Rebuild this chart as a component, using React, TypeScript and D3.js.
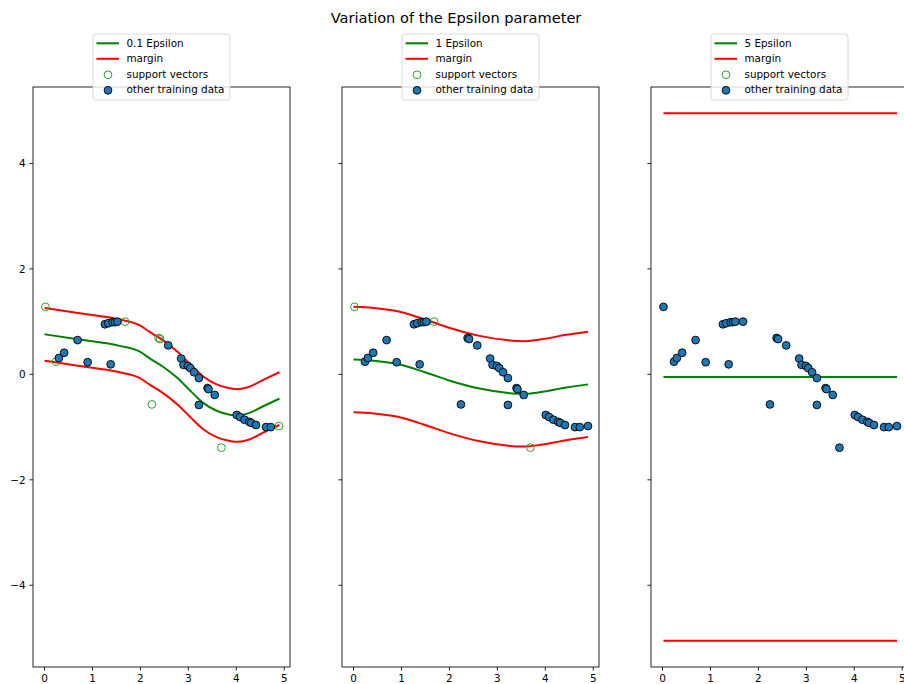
import React, { useEffect, useRef } from "react";
import * as d3 from "d3";

// training points
const pointX = [0.02, 0.24, 0.3, 0.41, 0.69, 0.9, 1.26, 1.33, 1.38, 1.42, 1.47, 1.52, 1.68, 2.24, 2.38, 2.41, 2.58, 2.85, 2.9, 2.99, 3.04, 3.12, 3.22, 3.22, 3.4, 3.42, 3.55, 3.69, 4.01, 4.08, 4.17, 4.27, 4.31, 4.41, 4.62, 4.72, 4.89];
const pointY = [1.28, 0.24, 0.31, 0.41, 0.65, 0.23, 0.95, 0.97, 0.19, 0.99, 0.99, 1.0, 1.0, -0.57, 0.69, 0.67, 0.55, 0.3, 0.18, 0.16, 0.12, 0.04, -0.07, -0.58, -0.26, -0.28, -0.39, -1.39, -0.77, -0.81, -0.86, -0.9, -0.92, -0.96, -1.0, -1.0, -0.98];

// model predictions per epsilon
const predX01 = [0, 0.73, 1.57, 1.99, 2.2, 2.48, 2.76, 3.03, 3.31, 3.59, 3.8, 4.01, 4.22, 4.57, 4.9];
const predY01 = [0.76, 0.66, 0.54, 0.43, 0.3, 0.14, -0.06, -0.3, -0.54, -0.69, -0.75, -0.78, -0.75, -0.6, -0.46];
const predX1 = [0, 0.42, 0.9, 1.46, 2.01, 2.63, 3.19, 3.53, 3.88, 4.44, 4.89];
const predY1 = [0.28, 0.26, 0.2, 0.05, -0.12, -0.27, -0.35, -0.37, -0.34, -0.25, -0.19];
const predX5 = [0.02, 4.89];
const predY5 = [-0.05, -0.05];

const epsilonLabels = ["0.1 Epsilon", "1 Epsilon", "5 Epsilon"];
const marginWidths = [0.5, 1, 5];
const supportIdx01 = [0, 1, 12, 13, 14, 15, 27, 36];
const supportIdx1 = [0, 12, 27];
const supportIdx5: number[] = [];

const xTicks = [0, 1, 2, 3, 4, 5];
const yTicks = [-4, -2, 0, 2, 4];
const legendLabels = ["margin", "support vectors", "other training data"];

const W = 904;
const H = 684;
const FONT = "DejaVu Sans, sans-serif";
const R = 3.9;

const App = () => {
  const ref = useRef<SVGSVGElement>(null);

  useEffect(() => {
    const svg = d3.select(ref.current);
    svg.selectAll("*").remove();

    const panels = [
      { px: predX01, py: predY01, sv: supportIdx01 },
      { px: predX1, py: predY1, sv: supportIdx1 },
      { px: predX5, py: predY5, sv: supportIdx5 },
    ];

    const axLefts = [33, 342, 651];
    const axW = 257;
    const top = 87;
    const bottom = 667;

    const y = d3.scaleLinear().domain([-5.55, 5.45]).range([bottom, top]);

    svg.append("text")
      .attr("x", 456)
      .attr("y", 23)
      .attr("text-anchor", "middle")
      .style("font-family", FONT)
      .style("font-size", "14.6px")
      .text("Variation of the Epsilon parameter");

    panels.forEach((p, i) => {
      const left = axLefts[i];
      const x = d3.scaleLinear().domain([-0.24, 5.12]).range([left, left + axW]);
      const g = svg.append("g");

      const clipId = `clip${i}`;
      svg.append("clipPath").attr("id", clipId)
        .append("rect").attr("x", left).attr("y", top).attr("width", axW).attr("height", bottom - top);

      const line = d3.line<number>()
        .x((_, k) => x(p.px[k]))
        .curve(d3.curveMonotoneX);

      const plot = g.append("g").attr("clip-path", `url(#${clipId})`);
      const idx = p.px.map((_, k) => k);

      plot.append("path")
        .attr("d", line.y(k => y(p.py[k]))(idx))
        .attr("fill", "none").attr("stroke", "#008000").attr("stroke-width", 2);
      [1, -1].forEach(s => {
        plot.append("path")
          .attr("d", line.y(k => y(p.py[k] + s * marginWidths[i]))(idx))
          .attr("fill", "none").attr("stroke", "#ff0000").attr("stroke-width", 2);
      });

      const svSet = new Set(p.sv);
      plot.selectAll(".sv")
        .data(p.sv)
        .enter().append("circle")
        .attr("cx", k => x(pointX[k])).attr("cy", k => y(pointY[k]))
        .attr("r", R)
        .attr("fill", "none").attr("stroke", "#2ca02c").attr("stroke-width", 1);

      const others = pointX.map((_, k) => k).filter(k => !svSet.has(k));
      plot.selectAll(".pt")
        .data(others)
        .enter().append("circle")
        .attr("cx", k => x(pointX[k])).attr("cy", k => y(pointY[k]))
        .attr("r", R)
        .attr("fill", "#1f77b4").attr("stroke", "#000").attr("stroke-width", 0.9);

      // spines
      g.append("rect")
        .attr("x", left).attr("y", top).attr("width", axW).attr("height", bottom - top)
        .attr("fill", "none").attr("stroke", "#000").attr("stroke-width", 0.85);

      // x ticks
      xTicks.forEach(t => {
        g.append("line")
          .attr("x1", x(t)).attr("x2", x(t)).attr("y1", bottom).attr("y2", bottom + 3.6)
          .attr("stroke", "#000").attr("stroke-width", 0.85);
        g.append("text")
          .attr("x", x(t)).attr("y", bottom + 15)
          .attr("text-anchor", "middle")
          .style("font-family", FONT).style("font-size", "10.4px")
          .text(String(t));
      });

      // y ticks, labels only on the first panel
      yTicks.forEach(t => {
        g.append("line")
          .attr("x1", left - 3.6).attr("x2", left).attr("y1", y(t)).attr("y2", y(t))
          .attr("stroke", "#000").attr("stroke-width", 0.85);
        if (i === 0) {
          g.append("text")
            .attr("x", left - 7.4).attr("y", y(t)).attr("dy", "0.36em")
            .attr("text-anchor", "end")
            .style("font-family", FONT).style("font-size", "10.4px")
            .text(t < 0 ? `\u2212${-t}` : String(t));
        }
      });

      // legend
      const lw = 137;
      const lx = left + axW / 2 - lw / 2;
      const lg = g.append("g");
      lg.append("rect")
        .attr("x", lx).attr("y", 34).attr("width", lw).attr("height", 66)
        .attr("rx", 3).attr("fill", "#fff").attr("fill-opacity", 0.8)
        .attr("stroke", "#d6d6d6").attr("stroke-width", 0.9);
      const rows = [epsilonLabels[i], ...legendLabels];
      const rowY = [43.3, 58.8, 74.3, 89.8];
      rows.forEach((label, r) => {
        const cy = rowY[r];
        if (r === 0 || r === 1) {
          lg.append("line")
            .attr("x1", lx + 3.5).attr("x2", lx + 26).attr("y1", cy).attr("y2", cy)
            .attr("stroke", r === 0 ? "#008000" : "#ff0000").attr("stroke-width", 2);
        } else {
          lg.append("circle")
            .attr("cx", lx + 15).attr("cy", cy + 0.5).attr("r", R)
            .attr("fill", r === 2 ? "none" : "#1f77b4")
            .attr("stroke", r === 2 ? "#2ca02c" : "#000").attr("stroke-width", r === 2 ? 1 : 0.9);
        }
        lg.append("text")
          .attr("x", lx + 33.5).attr("y", cy).attr("dy", "0.35em")
          .style("font-family", FONT).style("font-size", "10.4px")
          .text(label);
      });
    });
  }, []);

  return (
    <svg
      ref={ref}
      width={W}
      height={H}
      style={{ position: "absolute", left: 0, top: 0, background: "#fff" }}
    />
  );
};

export default App;
